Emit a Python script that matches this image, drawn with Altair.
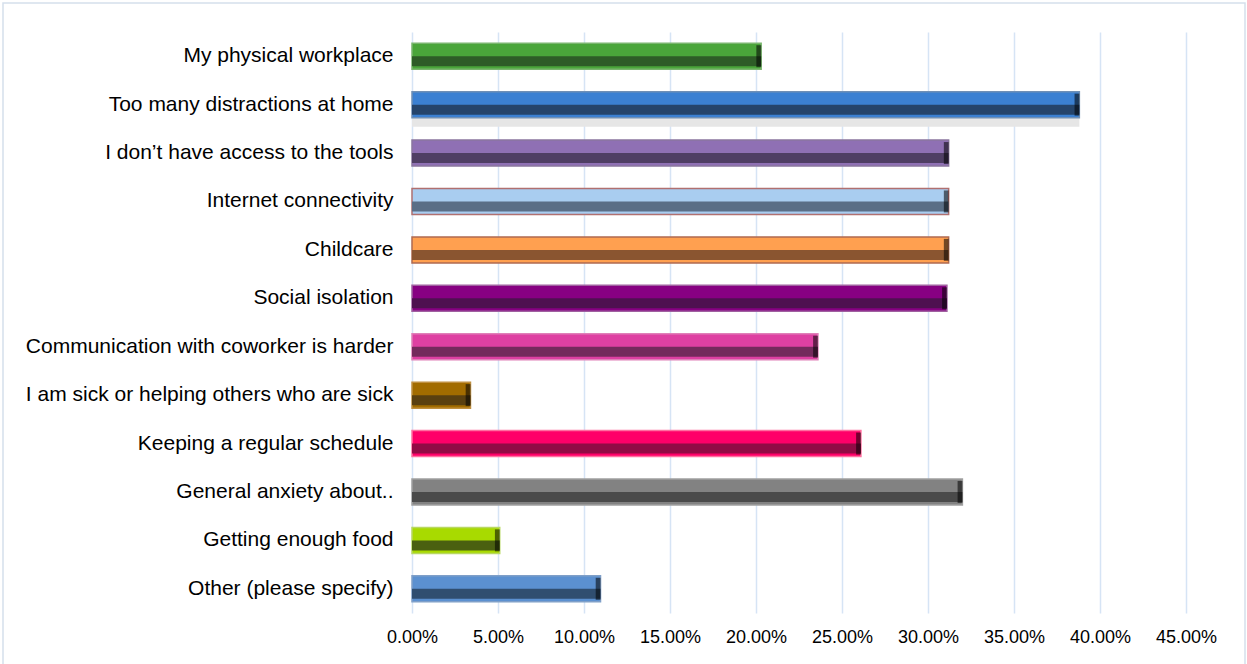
import altair as alt
import pandas as pd

categories = [
    "My physical workplace",
    "Too many distractions at home",
    "I don\u2019t have access to the tools",
    "Internet connectivity",
    "Childcare",
    "Social isolation",
    "Communication with coworker is harder",
    "I am sick or helping others who are sick",
    "Keeping a regular schedule",
    "General anxiety about..",
    "Getting enough food",
    "Other (please specify)",
]
values = [0.203, 0.388, 0.312, 0.312, 0.312, 0.311, 0.236, 0.034, 0.261, 0.320, 0.051, 0.1096]
top_colors = ["#4aa53a", "#3b80d2", "#8f70b4", "#a9cdf0", "#ffa050", "#870082",
              "#de40a2", "#a26c00", "#ff0068", "#828282", "#a8da00", "#5b90d0"]
bottom_colors = ["#2e5c27", "#25446b", "#4f3e64", "#5a6e86", "#8a5530", "#4e1050",
                 "#742a5c", "#5a4010", "#920b45", "#4a4a4a", "#4a6010", "#304e70"]
edge_colors = ["#7ab56e", "#6f8fb5", "#8a759e", "#b07070", "#b06a50", "#a060a0",
               "#e080b8", "#c09040", "#ff70a0", "#a0a0a0", "#b8d860", "#7f9fc8"]
shadow = [0, 1, 0, 0, 0, 0, 0, 0, 0, 0, 0, 0]
tick_values = [0, 0.05, 0.10, 0.15, 0.20, 0.25, 0.30, 0.35, 0.40, 0.45]

df = pd.DataFrame({
    "category": categories,
    "value": values,
    "top": top_colors,
    "bottom": bottom_colors,
    "edge": edge_colors,
    "shadow": shadow,
})

FONT = "Liberation Sans"

y_enc = alt.Y(
    "category:N",
    sort=categories,
    scale=alt.Scale(paddingInner=0.46, paddingOuter=0.23),
    axis=alt.Axis(title=None, domain=False, ticks=False, labelPadding=19,
                  labelFontSize=21, labelFont=FONT, labelColor="#000000",
                  labelLimit=500),
)
x_enc = alt.X(
    "value:Q",
    scale=alt.Scale(domain=[0, 0.45], nice=False),
    axis=alt.Axis(title=None, format=".2%", values=tick_values, domain=False,
                  ticks=False, grid=True, gridColor="#d6e4f5", gridWidth=1.5,
                  labelFontSize=18, labelFont=FONT, labelColor="#000000",
                  labelPadding=15, labelOverlap=False, labelFlush=False),
)

base = alt.Chart(df)

shadow_layer = base.transform_filter("datum.shadow == 1").mark_bar(
    height=10, yOffset=17, color="#e6e6e6"
).encode(x=x_enc, y=y_enc)

main = base.mark_bar(height=26, strokeWidth=1.5).encode(
    x=x_enc, y=y_enc,
    color=alt.Color("top:N", scale=None),
    stroke=alt.Stroke("edge:N", scale=None),
)

lower = base.mark_bar(height=10, yOffset=5).encode(
    x=x_enc, y=y_enc,
    color=alt.Color("bottom:N", scale=None),
)

cap = base.transform_calculate(x0="datum.value - 0.0028").mark_bar(
    height=22, color="#000000", opacity=0.55
).encode(x=alt.X("x0:Q"), x2="value:Q", y=y_enc)

frame = alt.Chart(pd.DataFrame({"a": [0]})).mark_rect(
    fill=None, stroke="#d5dfec", strokeWidth=1.5
).encode(
    x=alt.value(-409), x2=alt.value(833), y=alt.value(-29), y2=alt.value(700)
)

chart = alt.layer(frame, shadow_layer, main, lower, cap).properties(
    width=774, height=581,
    autosize=alt.AutoSizeParams(type="none"),
    padding={"left": 412, "top": 32, "right": 61, "bottom": 51},
    background="#ffffff",
).configure_view(stroke=None)

chart.save("out.html", embed_options={"renderer": "svg", "actions": False})
